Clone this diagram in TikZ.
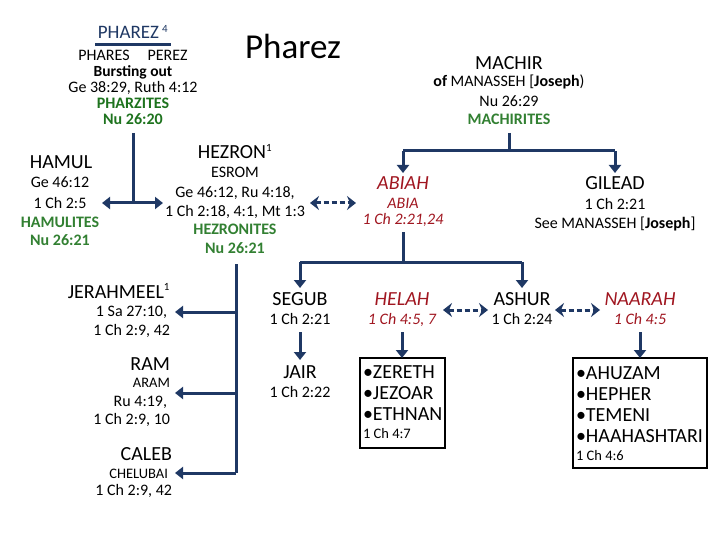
\documentclass[tikz,border=0pt]{standalone}
\usepackage{fontspec}
\setmainfont{Carlito}
\usetikzlibrary{arrows.meta}
\definecolor{navy}{RGB}{31,56,100}
\definecolor{tribe}{RGB}{50,128,50}
\definecolor{tribedark}{RGB}{30,115,30}
\definecolor{wife}{RGB}{160,22,32}
\newcommand\txline[6]{\node[#5,anchor=#4] (#1) at (#2,#3) {#6};}
\begin{document}
\begin{tikzpicture}[x=1pt,y=-1pt,
  every node/.style={inner sep=0pt,outer sep=0pt},
  big/.style={font=\fontsize{20}{23}\selectfont},
  sm/.style={font=\fontsize{16}{19}\selectfont},
  xs/.style={font=\fontsize{14.5}{17}\selectfont},
  grn/.style={font=\fontsize{16}{19}\selectfont\bfseries,text=tribe},
  grnd/.style={font=\fontsize{16}{19}\selectfont\bfseries,text=tribedark},
  wbig/.style={font=\fontsize{20}{23}\selectfont\itshape,text=wife},
  wsm/.style={font=\fontsize{16}{19}\selectfont\itshape,text=wife},
  conn/.style={draw=navy,line width=3pt},
  arr/.style={conn,-{Triangle[width=12pt,length=8pt]}},
  darr/.style={conn,dash pattern=on 5pt off 3pt,{Stealth[width=14pt,length=9pt,inset=3pt]}-{Stealth[width=14pt,length=9pt,inset=3pt]}},
  listbox/.style={draw=black,line width=1.5pt,anchor=north west}]
\useasboundingbox (0,0) rectangle (720,540);

% title
\txline{title}{293}{59}{base}{font=\fontsize{35}{40}\selectfont}{Pharez}

% PHAREZ
\txline{pharez}{133}{39}{base}{font=\fontsize{19}{22}\selectfont,text=navy}{PHAREZ\,\textsuperscript{\fontsize{11}{12}\selectfont 4}}
\draw[navy,line width=3pt] (95,45) -- (171,45);
\txline{phares}{133}{61}{base}{font=\fontsize{16}{18}\selectfont}{PHARES\hspace{18pt}PEREZ}
\txline{burst}{133}{77}{base}{font=\fontsize{15.5}{18}\selectfont\bfseries}{Bursting out}
\txline{pharezref}{133}{93}{base}{sm}{Ge 38:29, Ruth 4:12}
\txline{pharzites}{133}{109}{base}{grnd}{PHARZITES}
\txline{pharezrefb}{133}{125}{base}{grnd}{Nu 26:20}

% MACHIR
\txline{machir}{509}{70}{base}{big}{MACHIR}
\txline{machirof}{509}{87}{base}{sm}{\textbf{of} MANASSEH [\textbf{Joseph})}
\txline{machirref}{509}{107}{base}{sm}{Nu 26:29}
\txline{machirites}{509}{125}{base}{grn}{MACHIRITES}

% HAMUL
\txline{hamul}{61}{169}{base}{big}{HAMUL}
\txline{hamulra}{60}{188}{base}{sm}{Ge 46:12}
\txline{hamulrb}{60}{208}{base}{sm}{1 Ch 2:5}
\txline{hamulites}{60}{227}{base}{grn}{HAMULITES}
\txline{hamulrc}{60}{245}{base}{grn}{Nu 26:21}

% HEZRON
\txline{hezron}{235}{159}{base}{big}{HEZRON\textsuperscript{\fontsize{11}{12}\selectfont 1}}
\txline{esrom}{235}{178}{base}{sm}{ESROM}
\txline{hezronra}{235}{198}{base}{sm}{Ge 46:12, Ru 4:18,}
\txline{hezronrb}{235}{217}{base}{sm}{1 Ch 2:18, 4:1, Mt 1:3}
\txline{hezronites}{235}{235}{base}{grn}{HEZRONITES}
\txline{hezronrc}{235}{253}{base}{grn}{Nu 26:21}

% ABIAH
\txline{abiah}{403}{190}{base}{wbig}{ABIAH}
\txline{abia}{403}{208}{base}{wsm}{ABIA}
\txline{abiahref}{403}{225}{base}{wsm}{1 Ch 2:21,24}

% GILEAD
\txline{gilead}{615}{190}{base}{big}{GILEAD}
\txline{gileadra}{615}{210}{base}{sm}{1 Ch 2:21}
\txline{gileadrb}{615}{229}{base}{sm}{See MANASSEH [\textbf{Joseph}]}

% sons of Hezron (left column)
\txline{jerah}{170}{298}{base east}{big}{JERAHMEEL\textsuperscript{\fontsize{11}{12}\selectfont 1}}
\txline{jerahra}{167}{316}{base east}{sm}{1 Sa 27:10,}
\txline{jerahrb}{170}{335}{base east}{sm}{1 Ch 2:9, 42}
\txline{ram}{170}{370}{base east}{big}{RAM}
\txline{aram}{170}{387}{base east}{xs}{ARAM}
\txline{ramra}{167}{406}{base east}{sm}{Ru 4:19,}
\txline{ramrb}{170}{424}{base east}{sm}{1 Ch 2:9, 10}
\txline{caleb}{172}{460}{base east}{big}{CALEB}
\txline{chelubai}{168}{478}{base east}{xs}{CHELUBAI}
\txline{calebref}{172}{495}{base east}{sm}{1 Ch 2:9, 42}

% SEGUB, JAIR
\txline{segub}{300}{305}{base}{big}{SEGUB}
\txline{segubref}{300}{324}{base}{sm}{1 Ch 2:21}
\txline{jair}{300}{378}{base}{big}{JAIR}
\txline{jairref}{300}{397}{base}{sm}{1 Ch 2:22}

% HELAH
\txline{helah}{402}{305}{base}{wbig}{HELAH}
\txline{helahref}{402}{324}{base}{wsm}{1 Ch 4:5, 7}
\node[listbox,minimum width=85pt,minimum height=90pt] (helahbox) at (360,358) {};
\txline{zereth}{363}{378}{base west}{big}{•ZERETH}
\txline{jezoar}{363}{399}{base west}{big}{•JEZOAR}
\txline{ethnan}{363}{420}{base west}{big}{•ETHNAN}
\txline{helahkids}{363}{438}{base west}{xs}{1 Ch 4:7}

% ASHUR
\txline{ashur}{522}{305}{base}{big}{ASHUR}
\txline{ashurref}{522}{324}{base}{sm}{1 Ch 2:24}

% NAARAH
\txline{naarah}{640}{305}{base}{wbig}{NAARAH}
\txline{naarahref}{640}{324}{base}{wsm}{1 Ch 4:5}
\node[listbox,minimum width=134pt,minimum height=110pt] (naarahbox) at (573,358) {};
\txline{ahuzam}{576}{379}{base west}{big}{•AHUZAM}
\txline{hepher}{576}{400}{base west}{big}{•HEPHER}
\txline{temeni}{576}{421}{base west}{big}{•TEMENI}
\txline{haahash}{576}{442}{base west}{big}{•HAAHASHTARI}
\txline{naarahkids}{576}{460}{base west}{xs}{1 Ch 4:6}

% junction coordinates
\coordinate (pharezdown) at (133,133);
\coordinate (pharezj) at (133,203);
\coordinate (hamulin) at (102,203);
\coordinate (hezronin) at (163,203);
\coordinate (machirdown) at (509,133);
\coordinate (machirj) at (509,151);
\coordinate (abiahj) at (403,151);
\coordinate (gileadj) at (615,151);
\coordinate (abiahin) at (403,173);
\coordinate (gileadin) at (615,173);
\coordinate (abiahdown) at (403,232);
\coordinate (abiahj2) at (403,262);
\coordinate (segubj) at (300,262);
\coordinate (ashurj) at (522,262);
\coordinate (segubin) at (300,288);
\coordinate (ashurin) at (522,288);
\coordinate (hezdown) at (236,264);
\coordinate (jerahj) at (236,312);
\coordinate (ramj) at (236,393);
\coordinate (calebj) at (236,473);
\coordinate (jerahin) at (175,312);
\coordinate (ramin) at (175,393);
\coordinate (calebin) at (175,473);
\coordinate (segubout) at (300,332);
\coordinate (jairin) at (300,360);
\coordinate (helahout) at (402,332);
\coordinate (naarahout) at (640,332);
\coordinate (hezm) at (310,203);
\coordinate (abim) at (356,203);
\coordinate (helm) at (443,310);
\coordinate (ashm) at (488,310);
\coordinate (ashm2) at (555,310);
\coordinate (naam) at (600,310);

% connectors
\draw[conn] (pharezdown) -- (pharezj);
\draw[arr] (pharezj) -- (hamulin);
\draw[arr] (pharezj) -- (hezronin);
\draw[darr] (hezm) -- (abim);
\draw[conn] (machirdown) -- (machirj) -- (abiahj);
\draw[conn] (machirj) -- (gileadj);
\draw[arr] (abiahj) -- (abiahin);
\draw[arr] (gileadj) -- (gileadin);
\draw[conn] (abiahdown) -- (abiahj2);
\draw[conn] (segubj) -- (ashurj);
\draw[arr] (segubj) -- (segubin);
\draw[arr] (ashurj) -- (ashurin);
\draw[conn] (hezdown) -- (calebj);
\draw[arr] (jerahj) -- (jerahin);
\draw[arr] (ramj) -- (ramin);
\draw[arr] (calebj) -- (calebin);
\draw[arr] (segubout) -- (jairin);
\draw[arr] (helahout) -- (helahbox.north -| helahout);
\draw[arr] (naarahout) -- (naarahbox.north -| naarahout);
\draw[darr] (helm) -- (ashm);
\draw[darr] (ashm2) -- (naam);
\end{tikzpicture}
\end{document}
